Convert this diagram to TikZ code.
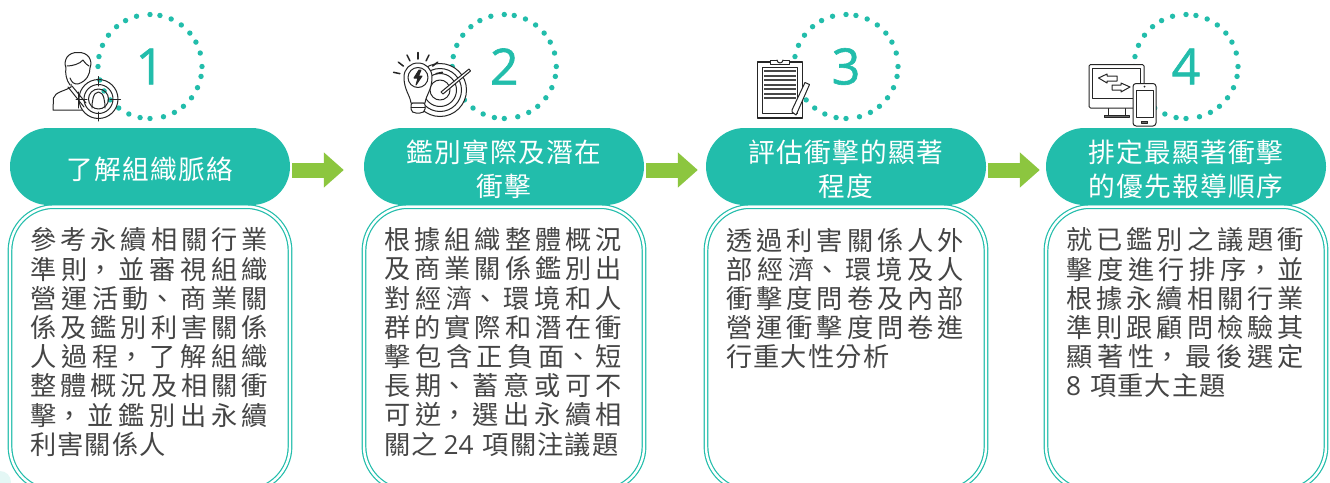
\documentclass[tikz,border=0pt]{standalone}
\usepackage{fontspec}
\usetikzlibrary{arrows.meta}
\setmainfont{Noto Sans CJK TC}
\newfontfamily\latinf{Open Sans}
\newfontfamily\numf[FakeBold=1.2]{Open Sans}
\XeTeXlinebreaklocale "zh"
\XeTeXlinebreakskip=1.2pt plus 8pt
\tolerance=10000 \hbadness=10000 \hfuzz=20pt
\definecolor{teal1}{HTML}{22BDAB}
\definecolor{green1}{HTML}{8CC63F}
\definecolor{ink}{HTML}{454545}
\definecolor{iconink}{HTML}{262626}
\newcommand{\topstrut}{\rule{0pt}{27.5pt}}
\tikzset{
  pill/.style={fill=teal1,rounded corners=38.5pt,minimum width=280pt,minimum height=77pt,inner sep=0pt,text=white,text width=262pt,align=flush center,font=\fontsize{26.7}{34}\selectfont},
  framebox/.style={draw=teal1,double=white,double distance=2.4pt,line width=1.2pt,rounded corners=44pt,minimum width=280pt,minimum height=284pt,anchor=north,inner sep=0pt},
  bodytext/.style={anchor=north west,inner sep=0pt,text=ink,text width=238pt,align=justify,font=\fontsize{26.2}{29.2}\selectfont},
  numeral/.style={text=teal1,inner sep=0pt,font=\fontsize{50}{50}\numf},
  flow/.style={line width=15pt,draw=green1,-{Triangle[length=20pt,width=34pt]},shorten <=2pt},
  ring/.style={fill=teal1},
  icon/.style={draw=iconink,line width=1pt,line cap=round,line join=round},
}
\newcommand{\ringdots}[2]{%
  \foreach \q in {0,90,180,270}{\foreach \a in {0,11,24,37,50,62,75}{
    \fill[ring] ({#1+52*sin(\q+\a)},{#2-52*cos(\q+\a)}) circle (2.7);}}}
\begin{document}
\begin{tikzpicture}[x=1pt,y=-1pt]
\useasboundingbox (0,0) rectangle (1330,482);
\fill[white] (0,0) rectangle (1330,482);
\fill[teal1!12] (0,482) circle (11);

% frames
\node[framebox] (b1) at (150,206) {};
\node[framebox] (b2) at (504,206) {};
\node[framebox] (b3) at (846,206) {};
\node[framebox] (b4) at (1186,206) {};

% pills
\node[pill] (p1) at (150,166.5) {\topstrut 了解組織脈絡};
\node[pill] (p2) at (504,166.5) {\topstrut 鑑別實際及潛在\\衝擊};
\node[pill] (p3) at (846,166.5) {\topstrut 評估衝擊的顯著\\程度};
\node[pill] (p4) at (1186,166.5) {\topstrut 排定最顯著衝擊\\的優先報導順序};

% arrows
\draw[flow,shorten >=20pt] ([yshift=-3.5pt]p1.east) -- ([yshift=-3.5pt]p2.west);
\draw[flow,shorten >=8pt] ([yshift=-3.5pt]p2.east) -- ([yshift=-3.5pt]p3.west);
\draw[flow,shorten >=6pt] ([yshift=-3.5pt]p3.east) -- ([yshift=-3.5pt]p4.west);

% body
\node[bodytext] (t1) at (30,227.5) {參考永續相關行業\break 準則，並審視組織\break 營運活動、商業關\break 係及鑑別利害關係\break 人過程，了解組織\break 整體概況及相關衝\break 擊，並鑑別出永續\break 利害關係人};
\node[bodytext] (t2) at (384,227.5) {根據組織整體概況\break 及商業關係鑑別出\break 對經濟、環境和人\break 群的實際和潛在衝\break 擊包含正負面、短\break 長期、蓄意或可不\break 可逆，選出永續相\break 關之 {\latinf 24}\hskip 9pt 項關注議題};
\node[bodytext] (t3) at (726,227.5) {透過利害關係人外\break 部經濟、環境及人\break 衝擊度問卷及內部\break 營運衝擊度問卷進\break 行重大性分析};
\node[bodytext] (t4) at (1066,227.5) {就已鑑別之議題衝\break 擊度進行排序，並\break 根據永續相關行業\break 準則跟顧問檢驗其\break 顯著性，最後選定\break {\latinf 8}\hskip 9pt 項重大主題};

% dotted rings and numerals
\ringdots{150}{66.5}
\ringdots{504.3}{66.5}
\ringdots{846}{66.5}
\ringdots{1186}{66.5}
\node[numeral] (n1) at (150,66.5) {1};
\node[numeral] (n2) at (504.3,66.5) {2};
\node[numeral] (n3) at (846,66.5) {3};
\node[numeral] (n4) at (1186,66.5) {4};

% icon 1: person with crosshair
\fill[white] (66,58) rectangle (92,84);
\draw[icon] (70,85) .. controls (66,80) and (65,72) .. (66,68) .. controls (63,60) and (68,52) .. (78,52.5) .. controls (88,52) and (93,60) .. (90,68) .. controls (90,74) and (87,81) .. (78,84) .. controls (74,84) and (72,83) .. (70,78);
\draw[icon] (67,66) .. controls (72,66) and (80,64) .. (83,60) .. controls (85,63) and (87,65) .. (89,66);
\draw[icon] (71,84) -- (71,87) .. controls (65,91) and (55,92) .. (53.5,98) -- (53,110) -- (82,110);
\draw[icon] (68,87) -- (84,107);
\draw[icon] (72,86) -- (86,103);
\draw[icon] (78,92) -- (78,108);
\foreach \r in {19.5,14.5,10}{\draw[icon] (98.5,99) circle (\r);}
\draw[icon] (98.5,76.5) -- (98.5,86) (98.5,112) -- (98.5,121) (76,99) -- (87,99) (110,99) -- (120.5,99);
\draw[icon] (92,108) .. controls (92,102) and (93,92) .. (98.5,92) .. controls (104,92) and (105,102) .. (105,108);

% icon 2: bulb and target
\foreach \r in {26.5,21.5,16.5,10}{\draw[icon,fill=white] (440,90) circle (\r);}
\draw[icon,fill=white] (441,92) -- (469,69) -- (470.5,71) -- (443,94) -- cycle;
\draw[icon,fill=white] (411,103) .. controls (410,95) and (404,90) .. (404,77) .. controls (404,69) and (410,63) .. (418,63) .. controls (426,63) and (432,69) .. (432,77) .. controls (432,90) and (426,95) .. (425,103) -- cycle;
\draw[icon] (418,77.5) circle (10);
\draw[icon,fill=iconink] (419,70) -- (414,78) -- (418,78) -- (416,85) -- (422,76) -- (418.5,76) -- (421,70) -- cycle;
\draw[icon,fill=white,rounded corners=2pt] (411,103) -- (425,103) -- (425,111) -- (422,113) -- (414,113) -- (411,111) -- cycle;
\draw[icon] (411,107) -- (425,107);
\foreach \a in {-90,-64,-38,-12,-116,-142,-168}{
  \draw[icon,line width=1.5pt] ({418+18.5*cos(\a)},{77.5+18.5*sin(\a)}) -- ({418+25*cos(\a)},{77.5+25*sin(\a)});}

% icon 3: clipboard
\draw[icon,fill=white,line width=1.1pt] (757.5,62) rectangle (802.5,118);
\draw[icon] (762,67) rectangle (797.5,113.5);
\draw[icon,fill=white] (770.5,60) rectangle (789.5,64.5);
\draw[icon,fill=white] (777,60) arc[start angle=180,end angle=0,radius=3];
\foreach \yy in {71,76,80,85,89,94,98}{\draw[draw=iconink!85,line width=1.9pt] (764,\yy) -- (796,\yy);}
\draw[icon,fill=white] (792,110) -- (805,82.5) -- (809.5,84.5) -- (797,113) -- (796,115) -- (792,112) -- cycle;

% icon 4: monitor and phone
\draw[icon,fill=white] (1108,108) -- (1108,115) -- (1125,115) -- (1125,108);
\draw[icon,fill=iconink!70] (1104,115) rectangle (1129,117);
\draw[icon,fill=white,rounded corners=1.5pt] (1089,64.5) rectangle (1144,108);
\draw[icon] (1092.5,68) rectangle (1140.5,98);
\draw[icon] (1098.5,78) -- (1107,74) -- (1107,76) -- (1117,76) -- (1117,81) -- (1107,81) -- (1107,83) -- cycle;
\draw[icon] (1130,87) -- (1121,83) -- (1121,85) -- (1112,85) -- (1112,90) -- (1121,90) -- (1121,92) -- cycle;
\draw[icon,fill=white,rounded corners=3pt] (1133,83.5) rectangle (1156,126);
\draw[icon] (1136,90) rectangle (1153,117);
\fill[iconink] (1144.5,86.7) circle (1);
\draw[icon,fill=iconink!70] (1141.5,121) rectangle (1147.5,123);
\end{tikzpicture}
\end{document}
